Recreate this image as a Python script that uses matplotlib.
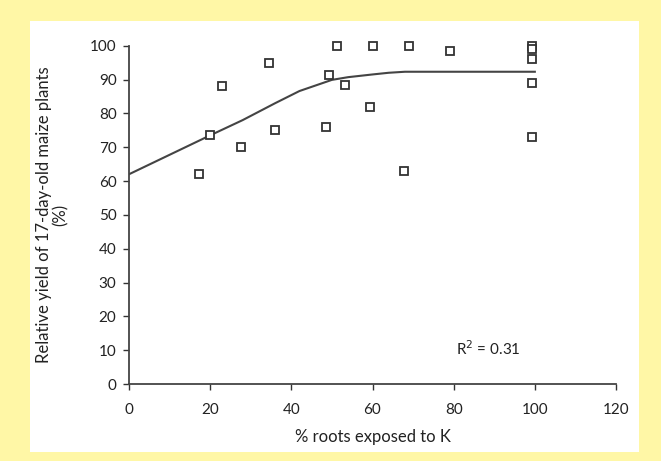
import matplotlib
matplotlib.use("Agg")
import matplotlib.pyplot as plt
from matplotlib.patches import Rectangle

plt.rcParams['font.family'] = ['Lato', 'DejaVu Sans']

# observed points
roots_pct = [17.3, 20, 23, 27.7, 34.6, 36, 48.6, 49.4, 51.3, 53.3, 59.5, 60.1,
             69.1, 67.7, 79, 99.2, 99.2, 99.3, 99.3, 99.4]
rel_yield = [62, 73.5, 88, 70, 95, 75, 76, 91.4, 100, 88.3, 82, 100,
             100, 63, 98.5, 100, 99, 96, 89, 73]

# fitted trend line
fit_x = [0, 20, 28, 36, 42, 50, 54, 60, 64, 68, 100]
fit_y = [62, 73.5, 78, 83, 86.6, 89.9, 90.7, 91.5, 92, 92.3, 92.3]

xticks = [0, 20, 40, 60, 80, 100, 120]
yticks = [0, 10, 20, 30, 40, 50, 60, 70, 80, 90, 100]

fig = plt.figure(figsize=(6.61, 4.61), dpi=100)
fig.patch.set_facecolor('#fff7a6')
fig.patches.append(Rectangle((30/661, 1-452/461), 609/661, 431/461,
                             transform=fig.transFigure, facecolor='white',
                             edgecolor='none', zorder=-10))

ax = fig.add_axes([129/661, 1-384/461, (616-129)/661, (384-45.7)/461])
ax.set_zorder(5)
ax.set_facecolor('none')

ax.plot(fit_x, fit_y, color='#444444', lw=1.5, zorder=2)
ax.plot(roots_pct, rel_yield, linestyle='none', marker='s', markersize=5.5,
        markerfacecolor='white', markeredgecolor='#333333', markeredgewidth=1.3,
        zorder=3, clip_on=False)

ax.set_xlim(0, 120)
ax.set_ylim(0, 100)
ax.set_xticks(xticks)
ax.set_yticks(yticks)
ax.tick_params(direction='out', length=4, width=1, colors='#333333',
               labelsize=11, labelcolor='#222222')
ax.tick_params(axis='x', pad=10)
ax.tick_params(axis='y', pad=5)
for s in ['top', 'right']:
    ax.spines[s].set_visible(False)
for s in ['left', 'bottom']:
    ax.spines[s].set_color('#444444')
    ax.spines[s].set_linewidth(1.3)

ax.set_xlabel('% roots exposed to K', fontsize=12, color='#222222', labelpad=8)
ax.set_ylabel('Relative yield of 17-day-old maize plants\n(%)', fontsize=12,
              color='#222222', labelpad=15, linespacing=1.05)

ax.text(80.5, 10.4, 'R$^2$ = 0.31', fontsize=11, color='#222222', va='center')

fig.savefig('out.png', dpi=100, facecolor=fig.get_facecolor())
